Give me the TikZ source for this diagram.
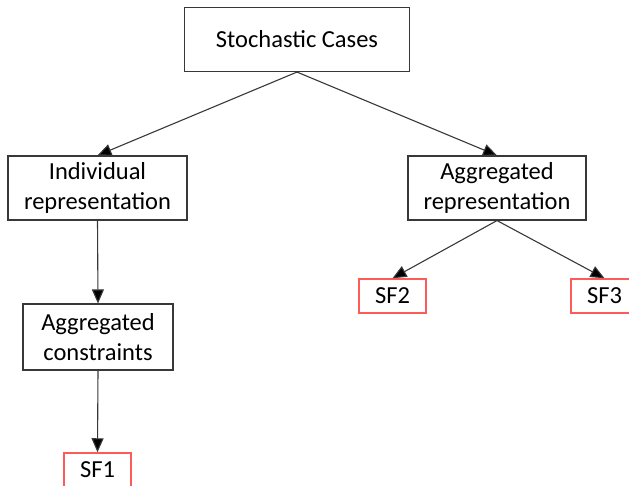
\documentclass[tikz,border=0pt]{standalone}
\usepackage{fontspec}
\setmainfont{Carlito}
\usetikzlibrary{arrows.meta}
\definecolor{edgegray}{HTML}{383838}
\definecolor{sfred}{HTML}{FF5A5A}
\tikzset{
  box/.style={draw=edgegray, line width=1.1pt, fill=white, align=center, inner sep=0pt,
    font=\fontsize{24.5}{30}\selectfont},
  sfbox/.style={draw=sfred, line width=1.5pt, fill=white, align=center, inner sep=0pt,
    minimum width=67pt, minimum height=34pt, font=\fontsize{24.5}{28}\selectfont},
  conn/.style={draw=edgegray, line width=1.1pt, -{Triangle[length=14pt,width=12pt,fill=black]}}
}
\begin{document}
\begin{tikzpicture}[x=1pt,y=-1pt]
\clip (0,0) rectangle (629,485);
\useasboundingbox (0,0) rectangle (629,485);
\node[box, minimum width=225pt, minimum height=64pt] (sc) at (297,39.5) {Stochastic Cases};
\node[box, minimum width=179pt, minimum height=64pt] (ir) at (97.5,188) {Individual\\representation};
\node[box, minimum width=150pt, minimum height=66pt] (ac) at (98,337) {Aggregated\\constraints};
\node[box, minimum width=178pt, minimum height=64pt] (ar) at (497,188) {Aggregated\\representation};
\node[sfbox] (sf2) at (392.5,296) {SF2};
\node[sfbox] (sf3) at (604.5,296) {SF3};
\node[sfbox] (sf1) at (97.5,470) {SF1};
\draw[conn] (sc.south) -- (ir.north);
\draw[conn] (sc.south) -- (ar.north);
\draw[conn] (ir.south) -- (ac.north);
\draw[conn] (ac.south) -- (sf1.north);
\draw[conn] (ar.south) -- (sf2.north);
\draw[conn] (ar.south) -- (sf3.north);
\end{tikzpicture}
\end{document}
